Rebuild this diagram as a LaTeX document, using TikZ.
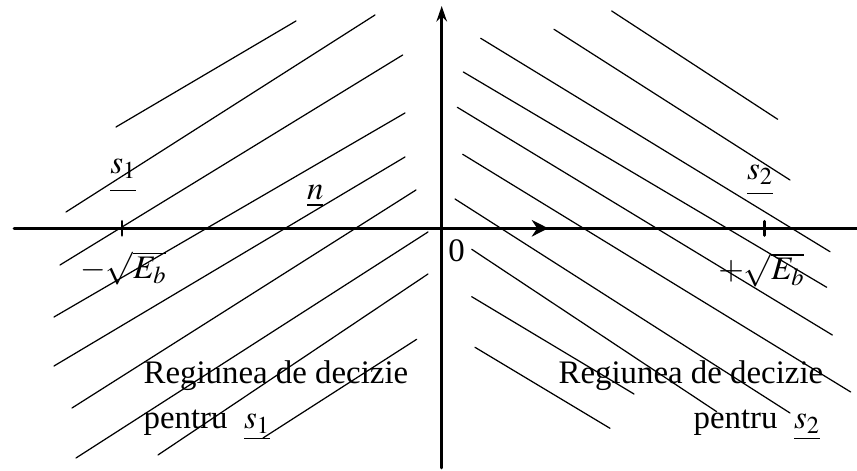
\documentclass[tikz,border=0pt]{standalone}
\usepackage{mathptmx}
\usepackage[no-math]{fontspec}
\setmainfont{Liberation Serif}
\usepackage{tikz}
\usetikzlibrary{arrows.meta}

\begin{document}
\begin{tikzpicture}[>={Stealth[length=3.3mm,width=3.3mm]},line cap=round,
  font=\fontsize{18.7pt}{26pt}\selectfont,inner sep=0pt,
  axis/.style={line width=1.7pt},
  hatch/.style={line width=0.7pt},
  lbl/.style={anchor=base west}]
\useasboundingbox (0,0) rectangle (17.14,9.42);
% hatching, region of s1
\draw[hatch] (2.32,6.88) -- (5.92,9.00);
\draw[hatch] (1.32,5.18) -- (7.50,9.12);
\draw[hatch] (1.20,4.12) -- (8.054,8.32);
\draw[hatch] (1.08,3.08) -- (8.10,7.16);
\draw[hatch] (1.08,2.10) -- (8.10,6.28);
\draw[hatch] (1.44,1.26) -- (8.32,5.62);
\draw[hatch] (1.52,0.26) -- (8.56,4.78);
\draw[hatch] (3.16,0.32) -- (8.56,3.94);
\draw[hatch] (5.26,0.66) -- (8.334,2.634);
% hatching, region of s2
\draw[hatch] (12.234,9.20) -- (15.554,7.034);
\draw[hatch] (11.08,8.834) -- (15.80,5.82);
\draw[hatch] (9.614,8.654) -- (16.60,4.386);
\draw[hatch] (9.266,7.98) -- (16.534,3.674);
\draw[hatch] (9.146,7.274) -- (16.646,2.72);
\draw[hatch] (9.254,6.334) -- (17.014,1.58);
\draw[hatch] (9.10,5.44) -- (15.80,1.16);
\draw[hatch] (9.434,4.434) -- (14.334,1.186);
\draw[hatch] (9.434,3.486) -- (12.68,1.54);
\draw[hatch] (9.50,2.474) -- (12.20,0.854);
% axes
\coordinate (tickL) at (2.44,4.854);
\coordinate (tickR) at (15.28,4.854);
\coordinate (tipN) at (10.966,4.854);
\draw[axis] (0.28,4.854) -- (17.14,4.854);
\draw[axis,-{Stealth[length=3.1mm,width=2.1mm]}] (8.834,0.06) -- (8.834,9.30);
\draw[axis,->] (tickL) -- (tipN);
\draw[axis] ([yshift=-0.14cm]tickL) -- ([yshift=0.14cm]tickL);
\draw[axis] ([yshift=-0.14cm]tickR) -- ([yshift=0.14cm]tickR);
% labels
\node[lbl] (s1) at (2.20,5.954) {$\underline{s_1\rule[-7pt]{0pt}{1pt}}$};
\node[lbl] (n) at (6.134,5.42) {$\underline{n}$};
\node[lbl] (s2) at (14.934,5.82) {$\underline{s_2\rule[-5pt]{0pt}{1pt}}$};
\node[lbl] (zero) at (8.96,4.186) {0};
\node[lbl] (mEb) at (1.60,3.854) {$-\sqrt{E_b}$};
\node[lbl] (pEb) at (14.36,3.82) {$+\sqrt{E_b}$};
\node[lbl] (reg1) at (2.866,1.754) {Regiunea de decizie};
\node[lbl] (pen1) at (2.866,0.84) {pentru\ \ $\underline{s_1}$};
\node[lbl] (reg2) at (11.166,1.754) {Regiunea de decizie};
\node[lbl] (pen2) at (13.866,0.84) {pentru\ \ $\underline{s_2}$};
\end{tikzpicture}
\end{document}
